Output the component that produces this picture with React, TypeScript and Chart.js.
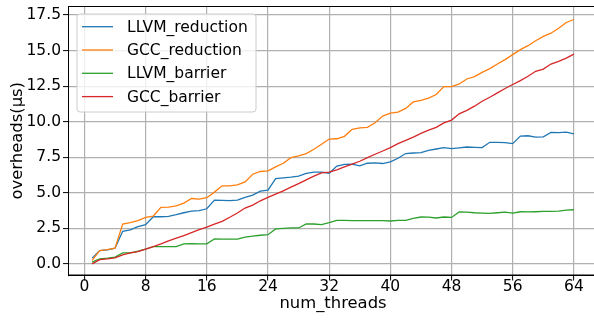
import React, { useEffect, useRef } from 'react';
import { Chart, registerables } from 'chart.js';

Chart.register(...registerables);

const threads = [
  1, 2, 3, 4, 5, 6, 7, 8, 9, 10, 11, 12, 13, 14, 15, 16,
  17, 18, 19, 20, 21, 22, 23, 24, 25, 26, 27, 28, 29, 30, 31, 32,
  33, 34, 35, 36, 37, 38, 39, 40, 41, 42, 43, 44, 45, 46, 47, 48,
  49, 50, 51, 52, 53, 54, 55, 56, 57, 58, 59, 60, 61, 62, 63, 64,
];

const llvmReduction = [
  0.41, 0.94, 0.99, 1.11, 2.3, 2.39, 2.62, 2.76, 3.32, 3.32, 3.35, 3.46, 3.6, 3.72, 3.75, 3.88,
  4.49, 4.47, 4.45, 4.49, 4.68, 4.84, 5.12, 5.19, 6.0, 6.05, 6.1, 6.17, 6.36, 6.45, 6.45, 6.38,
  6.88, 7.0, 7.02, 6.9, 7.08, 7.1, 7.06, 7.17, 7.43, 7.76, 7.8, 7.83, 7.99, 8.08, 8.18, 8.11,
  8.16, 8.22, 8.2, 8.18, 8.55, 8.54, 8.53, 8.46, 8.99, 9.01, 8.92, 8.93, 9.25, 9.23, 9.27, 9.15,
];

const gccReduction = [
  0.25, 0.94, 1.01, 1.11, 2.81, 2.9, 3.04, 3.28, 3.37, 3.98, 4.0, 4.09, 4.28, 4.6, 4.56, 4.66,
  5.05, 5.49, 5.49, 5.56, 5.77, 6.31, 6.5, 6.54, 6.82, 7.08, 7.47, 7.59, 7.76, 8.06, 8.41, 8.78,
  8.8, 8.97, 9.46, 9.57, 9.6, 9.92, 10.39, 10.6, 10.67, 10.93, 11.39, 11.49, 11.65, 11.91, 12.47, 12.47,
  12.65, 13.0, 13.17, 13.47, 13.73, 14.05, 14.36, 14.71, 15.06, 15.34, 15.69, 15.99, 16.22, 16.57, 16.97, 17.18,
];

const llvmBarrier = [
  0.13, 0.36, 0.41, 0.48, 0.78, 0.78, 0.9, 1.04, 1.22, 1.22, 1.22, 1.22, 1.41, 1.43, 1.41, 1.41,
  1.76, 1.74, 1.74, 1.74, 1.88, 1.95, 2.02, 2.06, 2.46, 2.5, 2.53, 2.53, 2.81, 2.81, 2.76, 2.9,
  3.06, 3.07, 3.04, 3.05, 3.04, 3.05, 3.04, 3.02, 3.06, 3.06, 3.2, 3.3, 3.29, 3.23, 3.3, 3.27,
  3.66, 3.64, 3.6, 3.58, 3.55, 3.6, 3.65, 3.58, 3.67, 3.66, 3.67, 3.69, 3.69, 3.72, 3.79, 3.81,
];

const gccBarrier = [
  0.01, 0.31, 0.36, 0.43, 0.64, 0.78, 0.87, 1.04, 1.22, 1.41, 1.62, 1.81, 2.0, 2.2, 2.41, 2.59,
  2.8, 3.0, 3.28, 3.58, 3.93, 4.14, 4.44, 4.68, 4.91, 5.14, 5.4, 5.65, 5.91, 6.17, 6.4, 6.45,
  6.62, 6.82, 7.01, 7.22, 7.47, 7.71, 7.94, 8.18, 8.46, 8.69, 8.92, 9.18, 9.41, 9.6, 9.92, 10.11,
  10.55, 10.79, 11.09, 11.44, 11.72, 12.02, 12.33, 12.61, 12.89, 13.19, 13.54, 13.7, 14.05, 14.24, 14.47, 14.75,
];

const seriesLabels = ['LLVM_reduction', 'GCC_reduction', 'LLVM_barrier', 'GCC_barrier'];
const seriesColors = ['#1f77b4', '#ff7f0e', '#2ca02c', '#d62728'];
const seriesValues = [llvmReduction, gccReduction, llvmBarrier, gccBarrier];

const xTicks = [0, 8, 16, 24, 32, 40, 48, 56, 64];
const yTicks = [0, 2.5, 5, 7.5, 10, 12.5, 15, 17.5];

const FONT = 'DejaVu Sans';
const TICK_FS = 15.5;
const TITLE_FS = 16.4;
const LEGEND_FS = 15.5;

const framePlugin = {
  id: 'frameAndLegend',
  afterDraw(chart: any) {
    const { ctx, chartArea } = chart;
    ctx.save();
    ctx.strokeStyle = '#000';
    ctx.lineWidth = 1;
    ctx.strokeRect(chartArea.left + 0.5, chartArea.top + 0.5, chartArea.right - chartArea.left - 1, chartArea.bottom - chartArea.top - 1);

    const bx = chartArea.left + 9;
    const by = chartArea.top + 8;
    const bw = 179;
    const bh = 98;
    const r = 3;
    ctx.beginPath();
    ctx.moveTo(bx + r, by);
    ctx.lineTo(bx + bw - r, by);
    ctx.arcTo(bx + bw, by, bx + bw, by + r, r);
    ctx.lineTo(bx + bw, by + bh - r);
    ctx.arcTo(bx + bw, by + bh, bx + bw - r, by + bh, r);
    ctx.lineTo(bx + r, by + bh);
    ctx.arcTo(bx, by + bh, bx, by + bh - r, r);
    ctx.lineTo(bx, by + r);
    ctx.arcTo(bx, by, bx + r, by, r);
    ctx.closePath();
    ctx.fillStyle = 'rgba(255,255,255,0.8)';
    ctx.fill();
    ctx.strokeStyle = '#cccccc';
    ctx.lineWidth = 1;
    ctx.stroke();

    ctx.font = `${LEGEND_FS}px "${FONT}"`;
    ctx.textBaseline = 'middle';
    ctx.textAlign = 'left';
    seriesLabels.forEach((label, i) => {
      const cy = by + 12.7 + i * 23.3;
      ctx.strokeStyle = seriesColors[i];
      ctx.lineWidth = 1.3;
      ctx.beginPath();
      ctx.moveTo(bx + 5, cy);
      ctx.lineTo(bx + 36, cy);
      ctx.stroke();
      ctx.fillStyle = '#000';
      ctx.fillText(label, bx + 50, cy + 1);
    });
    ctx.restore();
  },
};

export default function App() {
  const ref = useRef<HTMLCanvasElement>(null);

  useEffect(() => {
    if (!ref.current) return;
    const datasets = seriesLabels.map((label, i) => ({
      label,
      data: threads.map((t, j) => ({ x: t, y: seriesValues[i][j] })),
      borderColor: seriesColors[i],
      backgroundColor: seriesColors[i],
      borderWidth: 1.3,
      pointRadius: 0,
      tension: 0,
      fill: false,
      order: 3 - i,
    }));

    const chart = new Chart(ref.current, {
      type: 'line',
      data: { datasets },
      options: {
        animation: false,
        responsive: false,
        maintainAspectRatio: false,
        layout: { padding: { left: 0, top: 6, right: 22, bottom: 0 } },
        plugins: {
          legend: { display: false },
          tooltip: { enabled: false },
        },
        scales: {
          x: {
            type: 'linear',
            min: -2.15,
            max: 67.15,
            afterBuildTicks: (scale: any) => {
              scale.ticks = xTicks.map((v) => ({ value: v }));
            },
            afterFit: (scale: any) => {
              scale.height = 44.5;
              scale.paddingLeft = 0;
              scale.paddingRight = 0;
            },
            ticks: {
              autoSkip: false,
              maxRotation: 0,
              padding: -2.5,
              color: '#000',
              font: { family: FONT, size: TICK_FS },
              callback: (v: any) => String(v),
            },
            grid: {
              color: '#b0b0b0',
              lineWidth: 1.2,
              tickColor: '#000',
              tickLength: 5,
              tickWidth: 1,
            },
            border: { color: '#000', width: 1 },
            title: {
              display: true,
              text: 'num_threads',
              color: '#000',
              font: { family: FONT, size: TITLE_FS },
              padding: { top: 0, bottom: 6 },
            },
          },
          y: {
            type: 'linear',
            min: -0.81,
            max: 18.13,
            afterBuildTicks: (scale: any) => {
              scale.ticks = yTicks.map((v) => ({ value: v }));
            },
            afterFit: (scale: any) => {
              scale.width = 68;
              scale.paddingTop = 0;
              scale.paddingBottom = 0;
            },
            ticks: {
              autoSkip: false,
              padding: 2,
              color: '#000',
              font: { family: FONT, size: TICK_FS },
              callback: (v: any) => Number(v).toFixed(1),
            },
            grid: {
              color: '#b0b0b0',
              lineWidth: 1.2,
              tickColor: '#000',
              tickLength: 5,
              tickWidth: 1,
            },
            border: { color: '#000', width: 1 },
            title: {
              display: true,
              text: 'overheads(μs)',
              color: '#000',
              font: { family: FONT, size: TITLE_FS },
              padding: { top: 8, bottom: 0 },
            },
          },
        },
      },
      plugins: [framePlugin],
    });
    return () => chart.destroy();
  }, []);

  return (
    <div style={{ position: 'fixed', left: 0, top: 0, width: 620, height: 320, background: '#fff' }}>
      <canvas ref={ref} width={620} height={320} style={{ display: 'block', width: 620, height: 320 }} />
    </div>
  );
}
